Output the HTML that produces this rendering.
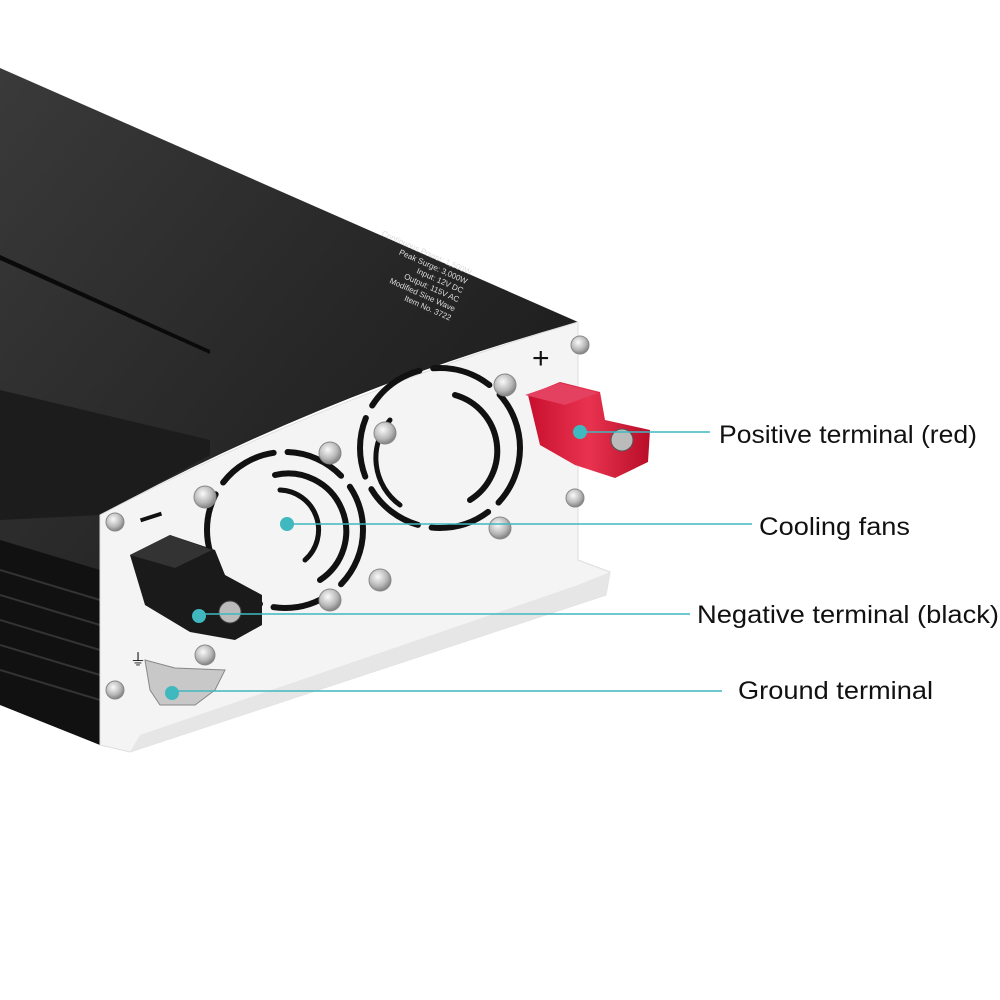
<!DOCTYPE html>
<html><head><meta charset="utf-8"><style>
html,body{margin:0;padding:0;background:#fff;}
svg{display:block}
.lbl{font-family:"Liberation Sans",sans-serif;fill:#111;font-size:25px}
.sm{font-family:"Liberation Sans",sans-serif;fill:#ddd;font-size:8px}
</style></head><body>
<svg width="1000" height="1000" viewBox="0 0 1000 1000">
<defs>
<linearGradient id="top" x1="0" y1="0" x2="1" y2="1">
<stop offset="0" stop-color="#3a3a3a"/><stop offset="0.5" stop-color="#262626"/><stop offset="1" stop-color="#151515"/>
</linearGradient>
<radialGradient id="scr" cx="0.4" cy="0.35" r="0.7">
<stop offset="0" stop-color="#fafafa"/><stop offset="0.6" stop-color="#b8b8b8"/><stop offset="1" stop-color="#777"/>
</radialGradient>
<linearGradient id="red" x1="0" y1="0" x2="1" y2="0">
<stop offset="0" stop-color="#c8102e"/><stop offset="0.5" stop-color="#e8334f"/><stop offset="1" stop-color="#b80d28"/>
</linearGradient>
</defs>
<path d="M0,68 L578,322 Q330,390 100,515 L100,745 L0,700 Z" fill="url(#top)"/>
<path d="M0,255 L210,350 L210,354 L0,260 Z" fill="#0a0a0a"/>
<path d="M0,390 L210,440 L210,455 L100,515 L0,520 Z" fill="#1c1c1c"/>
<path d="M0,540 L100,570 L100,745 L0,705 Z" fill="#111"/>
<g stroke="#333" stroke-width="2">
<line x1="0" y1="570" x2="100" y2="600"/><line x1="0" y1="595" x2="100" y2="625"/><line x1="0" y1="620" x2="100" y2="650"/><line x1="0" y1="645" x2="100" y2="675"/><line x1="0" y1="670" x2="100" y2="700"/>
</g>
<g transform="translate(470,275) rotate(24)">
<text class="sm" x="0" y="0" text-anchor="end">Continuous Power: 1,500W</text>
<text class="sm" x="0" y="10" text-anchor="end">Peak Surge: 3,000W</text>
<text class="sm" x="0" y="20" text-anchor="end">Input: 12V DC</text>
<text class="sm" x="0" y="30" text-anchor="end">Output: 115V AC</text>
<text class="sm" x="0" y="40" text-anchor="end">Modified Sine Wave</text>
<text class="sm" x="0" y="50" text-anchor="end">Item No. 3722</text>
</g>
<path d="M100,515 Q330,395 578,322 L578,560 L610,572 L606,595 L130,752 L100,745 Z" fill="#f4f4f4" stroke="#ddd" stroke-width="1"/>
<path d="M130,752 L606,595 L610,572 L578,585 L140,735 Z" fill="#e6e6e6"/>
<g fill="none" stroke="#111" stroke-linecap="round">
<circle cx="285" cy="530" r="78" stroke-width="6" stroke-dasharray="60 14"/>
<path d="M275,475 A58,58 0 0 1 320,580" stroke-width="6"/>
<path d="M280,490 A40,40 0 0 1 305,560" stroke-width="5"/>
<circle cx="440" cy="448" r="80" stroke-width="6" stroke-dasharray="60 14"/>
<path d="M455,395 A58,58 0 0 1 470,500" stroke-width="6"/>
<path d="M390,420 A58,58 0 0 0 400,505" stroke-width="5"/>
</g>
<g fill="url(#scr)" stroke="#888" stroke-width="1">
<circle cx="115" cy="522" r="9"/><circle cx="205" cy="497" r="11"/><circle cx="330" cy="453" r="11"/><circle cx="385" cy="433" r="11"/><circle cx="505" cy="385" r="11"/><circle cx="580" cy="345" r="9"/><circle cx="575" cy="498" r="9"/><circle cx="500" cy="528" r="11"/><circle cx="380" cy="580" r="11"/><circle cx="330" cy="600" r="11"/><circle cx="205" cy="655" r="10"/><circle cx="115" cy="690" r="9"/>
</g>
<text class="lbl" x="532" y="368" style="font-size:30px">+</text>
<rect x="140" y="515" width="22" height="4" fill="#111" transform="rotate(-18 151 517)"/>
<text class="lbl" x="130" y="665" style="font-size:16px">⏚</text>
<path d="M528,395 L560,382 L600,392 L605,420 L650,430 L648,462 L615,478 L575,465 L540,445 Z" fill="url(#red)"/>
<path d="M525,395 L560,383 L598,393 L565,405 Z" fill="#e44060"/>
<circle cx="622" cy="440" r="11" fill="#bbb" stroke="#555"/>
<path d="M130,555 L170,535 L215,550 L225,575 L262,595 L262,625 L235,640 L190,632 L145,605 Z" fill="#1a1a1a"/>
<path d="M130,555 L170,535 L212,550 L175,568 Z" fill="#333"/>
<circle cx="230" cy="612" r="11" fill="#bbb" stroke="#444"/>
<path d="M145,660 L175,668 L225,670 L215,690 L195,705 L160,705 L150,690 Z" fill="#c8c8c8" stroke="#888"/>
<g stroke="#3fb8c0" stroke-width="1.5">
<line x1="580" y1="432" x2="710" y2="432"/>
<line x1="287" y1="524" x2="752" y2="524"/>
<line x1="199" y1="614" x2="690" y2="614"/>
<line x1="172" y1="691" x2="722" y2="691"/>
</g>
<g fill="#3fb8c0">
<circle cx="580" cy="432" r="7"/><circle cx="287" cy="524" r="7"/><circle cx="199" cy="616" r="7"/><circle cx="172" cy="693" r="7"/>
</g>
<text class="lbl" x="719" y="443" textLength="258" lengthAdjust="spacingAndGlyphs">Positive terminal (red)</text>
<text class="lbl" x="759" y="535" textLength="151" lengthAdjust="spacingAndGlyphs">Cooling fans</text>
<text class="lbl" x="697" y="623" textLength="302" lengthAdjust="spacingAndGlyphs">Negative terminal (black)</text>
<text class="lbl" x="738" y="699" textLength="195" lengthAdjust="spacingAndGlyphs">Ground terminal</text>
</svg>
</body></html>
